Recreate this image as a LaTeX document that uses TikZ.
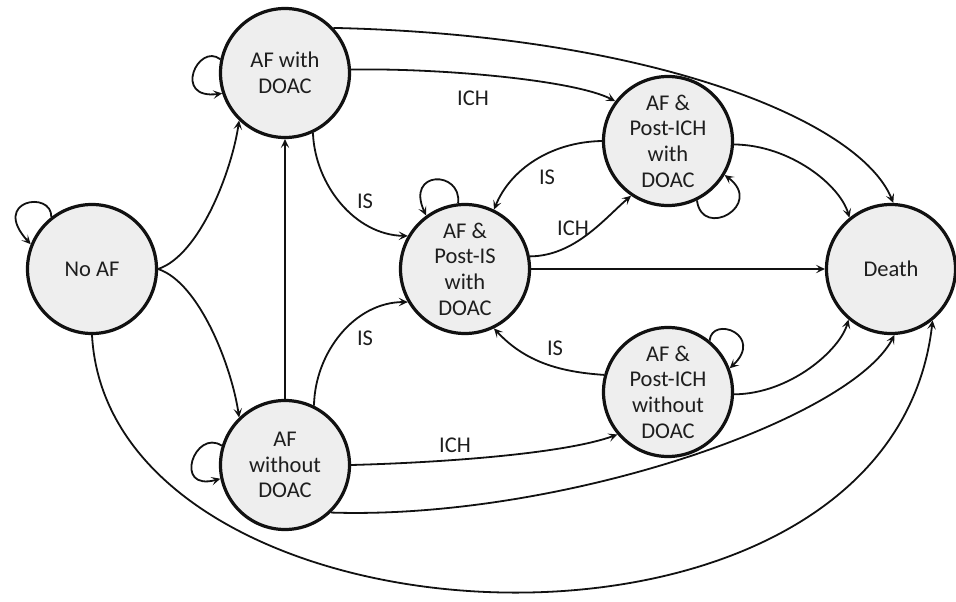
\documentclass[tikz,border=0pt]{standalone}
\usepackage{fontspec}
\setmainfont{Carlito}
\usetikzlibrary{arrows.meta}
\definecolor{stategray}{HTML}{EEEEEE}
\definecolor{textgray}{HTML}{1E1E1E}
\definecolor{linecol}{HTML}{111111}
\begin{document}
\begin{tikzpicture}[x=1pt,y=-1pt,
  state/.style={circle, draw=linecol, line width=3.2pt, fill=stategray, minimum size=129pt,
    inner sep=0pt, align=center, text=textgray, font=\fontsize{22.5}{25.7}\selectfont},
  lbl/.style={text=textgray, font=\fontsize{22.5}{25.7}\selectfont, inner sep=0pt},
  conn/.style={draw=linecol, line width=1.8pt, -{Stealth[length=9pt,width=8.5pt,inset=4pt]}},
]
\useasboundingbox (0,0) rectangle (956,602);
\node[state] (noaf) at (92,269) {No AF};
\node[state] (afw) at (285,73) {AF with\\DOAC};
\node[state] (afo) at (285,465) {AF\\without\\DOAC};
\node[state] (pis) at (465,269) {AF \&\\Post-IS\\with\\DOAC};
\node[state] (pichw) at (668,141) {AF \&\\Post-ICH\\with\\DOAC};
\node[state] (picho) at (668,392) {AF \&\\Post-ICH\\without\\DOAC};
\node[state] (death) at (891,269) {Death};

% self loops
\draw[conn] (noaf.128) .. controls (52,190) and (-10,200) .. (noaf.158);
\draw[conn] (afw.168) .. controls (198,42) and (172,100) .. (afw.198);
\draw[conn] (afo.163) .. controls (195,428) and (172,492) .. (afo.192);
\draw[conn] (pis.96) .. controls (462,170) and (405,170) .. (pis.126);
\draw[conn] (pichw.-64) .. controls (702,240) and (765,205) .. (pichw.-31);
\draw[conn] (picho.51) .. controls (712,315) and (765,335) .. (picho.21);

% transitions
\draw[conn] (noaf.east) .. controls (200,255) and (232,170) .. (afw.226);
\draw[conn] (noaf.east) .. controls (200,283) and (232,368) .. (afo.134);
\draw[conn] (afo.north) -- (afw.south);
\draw[conn] (noaf.south) .. controls (110,660) and (890,700) .. (death.-51);
\draw[conn] (afw.43) .. controls (650,35) and (860,120) .. (death.88);
\draw[conn] (afw.3) .. controls (440,68) and (575,80) .. (pichw.143);
\draw[conn] (afw.-65) .. controls (315,185) and (355,235) .. (pis.150);
\draw[conn] (afo.64) .. controls (315,352) and (355,302) .. (pis.210);
\draw[conn] (afo.east) .. controls (460,462) and (570,452) .. (picho.220);
\draw[conn] (afo.-46) .. controls (560,520) and (850,420) .. (death.-87);
\draw[conn] (pis.11) .. controls (575,256) and (605,218) .. (pichw.236);
\draw[conn] (pichw.180) .. controls (550,142) and (510,170) .. (pis.64);
\draw[conn] (picho.165) .. controls (560,372) and (525,362) .. (pis.-64);
\draw[conn] (pis.east) -- (death.west);
\draw[conn] (pichw.-3) .. controls (790,145) and (840,185) .. (death.129);
\draw[conn] (picho.-2) .. controls (790,394) and (840,350) .. (death.230);

% labels
\node[lbl] (l1) at (473,98) {ICH};
\node[lbl] (l2) at (365,201) {IS};
\node[lbl] (l3) at (365,338) {IS};
\node[lbl] (l4) at (547,177) {IS};
\node[lbl] (l5) at (573,228) {ICH};
\node[lbl] (l6) at (555,348) {IS};
\node[lbl] (l7) at (455,445) {ICH};
\end{tikzpicture}
\end{document}
